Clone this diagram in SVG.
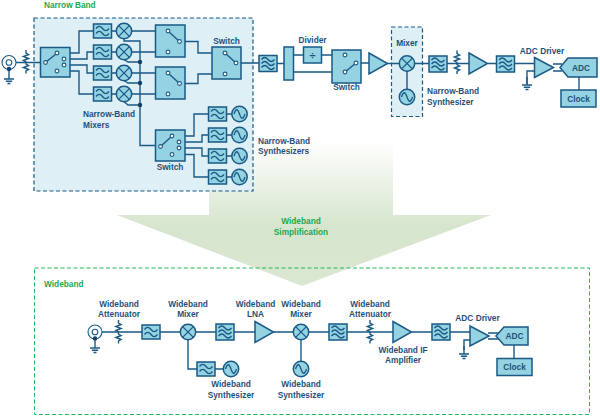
<svg xmlns="http://www.w3.org/2000/svg" width="600" height="417" viewBox="0 0 600 417">
<style>
text{font-family:"Liberation Sans",Arial,sans-serif;font-size:8.3px;font-weight:700;fill:#1f5078;text-anchor:middle}
.g{fill:#22a850;text-anchor:start}
.gc{fill:#22a850}
.s{text-anchor:start}
.b{fill:#95d3e2;stroke:#1a5a85;stroke-width:1.5}
.w{fill:none;stroke:#1a5a85;stroke-width:1.3}
.l{fill:none;stroke:#1a5a85;stroke-width:1.4}
.n{fill:#fff;stroke:#1a5a85;stroke-width:1.1}
.d{fill:#123f6a}
</style>
<defs>
<linearGradient id="ag" gradientUnits="userSpaceOnUse" x1="0" y1="140" x2="0" y2="285">
<stop offset="0" stop-color="#fff"/>
<stop offset="0.6" stop-color="#d6e5cd"/>
<stop offset="1" stop-color="#dae7d2"/>
</linearGradient>
<g id="f2"><rect class="b" x="-9" y="-7" width="18" height="14"/><path class="w" d="M-6.500-2.500q3.200-4.400 6.500 0t6.500 0M-6.500 2.500q3.200-4.400 6.500 0t6.500 0"/></g>
<g id="f3"><rect class="b" x="-9" y="-8" width="18" height="16"/><path class="w" d="M-6.500-4q3.200-4 6.500 0t6.500 0M-6.500 0q3.200-4 6.500 0t6.500 0M-6.500 4q3.200-4 6.500 0t6.500 0"/></g>
<g id="mx"><circle class="b" r="7.700"/><path class="w" d="M-5.400-5.400 5.400 5.400M-5.400 5.400 5.400-5.400"/></g>
<g id="os"><circle class="b" r="7.700"/><path class="w" d="M-5.500 0q2.700-8.500 5.500 0t5.500 0"/></g>
<g id="at"><path class="l" d="M0-12v3l2.600 1.500-5.200 2 5.200 2-5.200 2 2.600 1.500v1M0 0.500v1.500l2.600 1.500-5.200 2 5.200 2-2.600 1.500v2.500"/></g>
<g id="gn"><path class="l" d="M0 0v8M-5 8H5M-3.200 10.300H3.200M-1.500 12.500H1.500"/></g>
<g id="am"><path class="b" d="M0-10.500 18.500 0 0 10.500Z"/></g>
</defs>

<rect width="600" height="417" fill="#fff"/>
<polygon id="arrow-shape" points="209,140 393,140 393,215 491,215 302,286 117,215 209,215" fill="url(#ag)"/>
<rect id="wideband-box" x="34.500" y="268" width="555" height="146.500" fill="none" stroke="#22b857" stroke-width="1" stroke-dasharray="4 2.500"/>
<rect id="narrow-box" x="34" y="18" width="219" height="173" fill="#deeff6" stroke="#1a5a85" stroke-width="1.200" stroke-dasharray="4 2.500"/>
<rect id="mixer-box" x="391.500" y="27" width="31" height="89.500" fill="#deeff6" stroke="#1a5a85" stroke-width="1.200" stroke-dasharray="4 2.500"/>

<g id="connectors">
<path class="l" d="M16 62.500H40.500M70 53H79V31H94M70 59H87V52H94M70 65H87V73H94M70 71H79V94H94"/>
<path class="l" d="M111 31H116M111 52H116M111 73H116M111 94H116M132 31H155M132 52H155M132 73H155M132 94H155"/>
<path class="l" d="M124 38.500V41H140V145.500H155.500M124 59.500 128 62H140M124 80.500 128 83H140M124 101.500 128 105H140"/>
<path class="l" d="M185 41.500H198V53H212M185 83.500H198V74H212M241 63H259M277 63.500H284"/>
<path class="l" d="M293.500 55H303.500M321.500 55H332M293.500 72H332M361 63H369M387.500 63.500H399M415 63.500H429M407 71V89M447 63.500H469M488 63.500H497M514.500 63.500H534.500M553 64H562M553 71H562M534.500 71H527V84M579 77V90"/>
<path class="l" d="M185 136H194V114H209M185 142H202V135H209M185 148H202V156H209M185 154.500H194V177H209M226 114H232M226 135H232M226 156H232M226 177H232"/>
<path class="l" d="M102 332H142M159.500 332H180M196 332H216M234 332H255M273.500 332H293M309 332H329M347 332H393M411.500 332H432M450 332H470M488 333H500M488 339H500M470 340H464V350M514 345V358M188 340V369H197M215 369H223M301 340V361"/>
</g>

<g id="source-top"><circle class="n" cx="9" cy="62.500" r="7"/><circle class="n" cx="9" cy="62.500" r="2.800"/><circle class="d" cx="9" cy="69" r="2.200"/><use href="#gn" x="9" y="71"/></g>
<g id="atten-top"><use href="#at" x="26" y="62"/></g>
<g id="input-switch"><rect class="b" x="40.500" y="47.500" width="29.500" height="29.500"/><path class="l" d="M46 62 56 54"/><circle class="n" cx="45.500" cy="62.500" r="1.900"/><circle class="n" cx="57" cy="53" r="1.900"/><circle class="n" cx="64" cy="59" r="1.900"/><circle class="n" cx="64" cy="65" r="1.900"/><circle class="n" cx="57" cy="71" r="1.900"/></g>
<g id="nb-filter-1"><use href="#f2" x="102.500" y="31"/></g>
<g id="nb-filter-2"><use href="#f2" x="102.500" y="52"/></g>
<g id="nb-filter-3"><use href="#f2" x="102.500" y="73"/></g>
<g id="nb-filter-4"><use href="#f2" x="102.500" y="94"/></g>
<g id="nb-mixer-1"><use href="#mx" x="124" y="31"/></g>
<g id="nb-mixer-2"><use href="#mx" x="124" y="52"/></g>
<g id="nb-mixer-3"><use href="#mx" x="124" y="73"/></g>
<g id="nb-mixer-4"><use href="#mx" x="124" y="94"/></g>
<g id="bus-dots"><circle class="d" cx="140" cy="62" r="2.200"/><circle class="d" cx="140" cy="83" r="2.200"/><circle class="d" cx="140" cy="105" r="2.200"/></g>
<g id="switch-upper"><rect class="b" x="155.500" y="25" width="29.500" height="32"/><path class="l" d="M168 31 179.500 41.500"/><circle class="n" cx="168" cy="31" r="1.900"/><circle class="n" cx="179.500" cy="41.500" r="1.900"/><circle class="n" cx="168" cy="52" r="1.900"/></g>
<g id="switch-lower"><rect class="b" x="155.500" y="67" width="29.500" height="32"/><path class="l" d="M168 73 179.500 83.500"/><circle class="n" cx="168" cy="73" r="1.900"/><circle class="n" cx="179.500" cy="83.500" r="1.900"/><circle class="n" cx="168" cy="94" r="1.900"/></g>
<g id="switch-right"><rect class="b" x="212" y="47" width="29" height="32"/><path class="l" d="M225 53 236 63"/><circle class="n" cx="225" cy="53" r="1.900"/><circle class="n" cx="236" cy="63" r="1.900"/><circle class="n" cx="225" cy="74" r="1.900"/><text x="226.500" y="43.500">Switch</text></g>
<g id="switch-synth"><rect class="b" x="155.500" y="130" width="29.500" height="31"/><path class="l" d="M161 146 171 137"/><circle class="n" cx="160.500" cy="146.500" r="1.900"/><circle class="n" cx="172" cy="136" r="1.900"/><circle class="n" cx="179" cy="142" r="1.900"/><circle class="n" cx="179" cy="148" r="1.900"/><circle class="n" cx="172" cy="154.500" r="1.900"/><text x="170" y="169.500">Switch</text></g>
<g id="syn-1"><use href="#f2" x="217.500" y="114"/><use href="#os" x="239.500" y="114"/></g>
<g id="syn-2"><use href="#f2" x="217.500" y="135"/><use href="#os" x="239.500" y="135"/></g>
<g id="syn-3"><use href="#f2" x="217.500" y="156"/><use href="#os" x="239.500" y="156"/></g>
<g id="syn-4"><use href="#f2" x="217.500" y="177"/><use href="#os" x="239.500" y="177"/></g>

<g id="top-filter-1"><use href="#f3" x="268" y="63.500"/></g>
<g id="splitter"><rect class="b" x="284" y="47" width="9.500" height="33"/></g>
<g id="divider"><rect class="b" x="303.500" y="47" width="18" height="16"/><text x="312.500" y="58.500" style="font-size:11px">÷</text><text x="312.500" y="43">Divider</text></g>
<g id="switch-top"><rect class="b" x="332" y="50" width="29" height="33"/><path class="l" d="M345 72 356 63"/><circle class="n" cx="345" cy="55" r="1.900"/><circle class="n" cx="356" cy="63" r="1.900"/><circle class="n" cx="345" cy="72" r="1.900"/><text x="346.500" y="89.500">Switch</text></g>
<g id="top-amp-1"><use href="#am" x="369" y="63.500"/></g>
<g id="top-mixer"><use href="#mx" x="407" y="63.500"/><use href="#os" x="407" y="97"/><text x="407" y="45.500">Mixer</text></g>
<g id="top-filter-2"><use href="#f3" x="438" y="64"/></g>
<g id="top-atten"><use href="#at" x="457" y="62.500"/></g>
<g id="top-amp-2"><use href="#am" x="469" y="63.500"/></g>
<g id="top-filter-3"><use href="#f3" x="505.500" y="64"/></g>
<g id="top-driver"><path class="b" d="M534.500 57.500 553.500 67.500 534.500 77.500Z"/><use href="#gn" x="527" y="77"/><text x="542" y="53.500">ADC Driver</text></g>
<g id="top-adc"><path class="b" d="M560 67.500 568 58H597V77H568Z"/><text x="581" y="70.500">ADC</text></g>
<g id="top-clock"><rect class="b" x="561" y="90" width="35" height="17"/><text x="578.500" y="101.500">Clock</text></g>

<text class="g" x="44" y="8">Narrow Band</text>
<text class="s" x="83" y="117">Narrow-Band</text>
<text class="s" x="83" y="127.500">Mixers</text>
<text class="s" x="258" y="143.500">Narrow-Band</text>
<text class="s" x="258" y="153.500">Synthesizers</text>
<text class="s" x="427" y="94">Narrow-Band</text>
<text class="s" x="427" y="105">Synthesizer</text>
<text class="gc" x="301" y="224">Wideband</text>
<text class="gc" x="301" y="234.500">Simplification</text>
<text class="g" x="44" y="287">Wideband</text>

<g id="wb-source"><circle class="n" cx="95" cy="332" r="7"/><circle class="n" cx="95" cy="332" r="2.800"/><circle class="d" cx="95" cy="338.500" r="2.200"/><use href="#gn" x="95" y="340"/></g>
<g id="wb-atten-1"><use href="#at" x="118.500" y="332"/><text x="119" y="306.500">Wideband</text><text x="119" y="317">Attenuator</text></g>
<g id="wb-filter-1"><use href="#f2" x="151" y="332"/></g>
<g id="wb-mixer-1"><use href="#mx" x="188" y="332"/><text x="188" y="306.500">Wideband</text><text x="188" y="317">Mixer</text></g>
<g id="wb-filter-2"><use href="#f3" x="225" y="332"/></g>
<g id="wb-lna"><use href="#am" x="255" y="332"/><text x="255.500" y="306.500">Wideband</text><text x="255.500" y="317">LNA</text></g>
<g id="wb-mixer-2"><use href="#mx" x="301" y="332"/><text x="301" y="306.500">Wideband</text><text x="301" y="317">Mixer</text></g>
<g id="wb-syn-1"><use href="#f2" x="206" y="369"/><use href="#os" x="231" y="369"/><text x="231" y="387">Wideband</text><text x="231" y="397.500">Synthesizer</text></g>
<g id="wb-syn-2"><use href="#os" x="301" y="369"/><text x="301" y="387">Wideband</text><text x="301" y="397.500">Synthesizer</text></g>
<g id="wb-filter-3"><use href="#f3" x="338" y="332"/></g>
<g id="wb-atten-2"><use href="#at" x="370" y="332"/><text x="370" y="306.500">Wideband</text><text x="370" y="317">Attenuator</text></g>
<g id="wb-if"><use href="#am" x="393" y="332"/><text x="403" y="352.500">Wideband IF</text><text x="403" y="363">Amplifier</text></g>
<g id="wb-filter-4"><use href="#f3" x="441" y="332"/></g>
<g id="wb-driver"><path class="b" d="M470 326 489 336 470 346Z"/><use href="#gn" x="464" y="346"/><text x="477.500" y="320.500">ADC Driver</text></g>
<g id="wb-adc"><path class="b" d="M496 336 504 327H528V345H504Z"/><text x="514.500" y="339">ADC</text></g>
<g id="wb-clock"><rect class="b" x="497" y="358.500" width="35" height="17"/><text x="514.500" y="370">Clock</text></g>
</svg>
